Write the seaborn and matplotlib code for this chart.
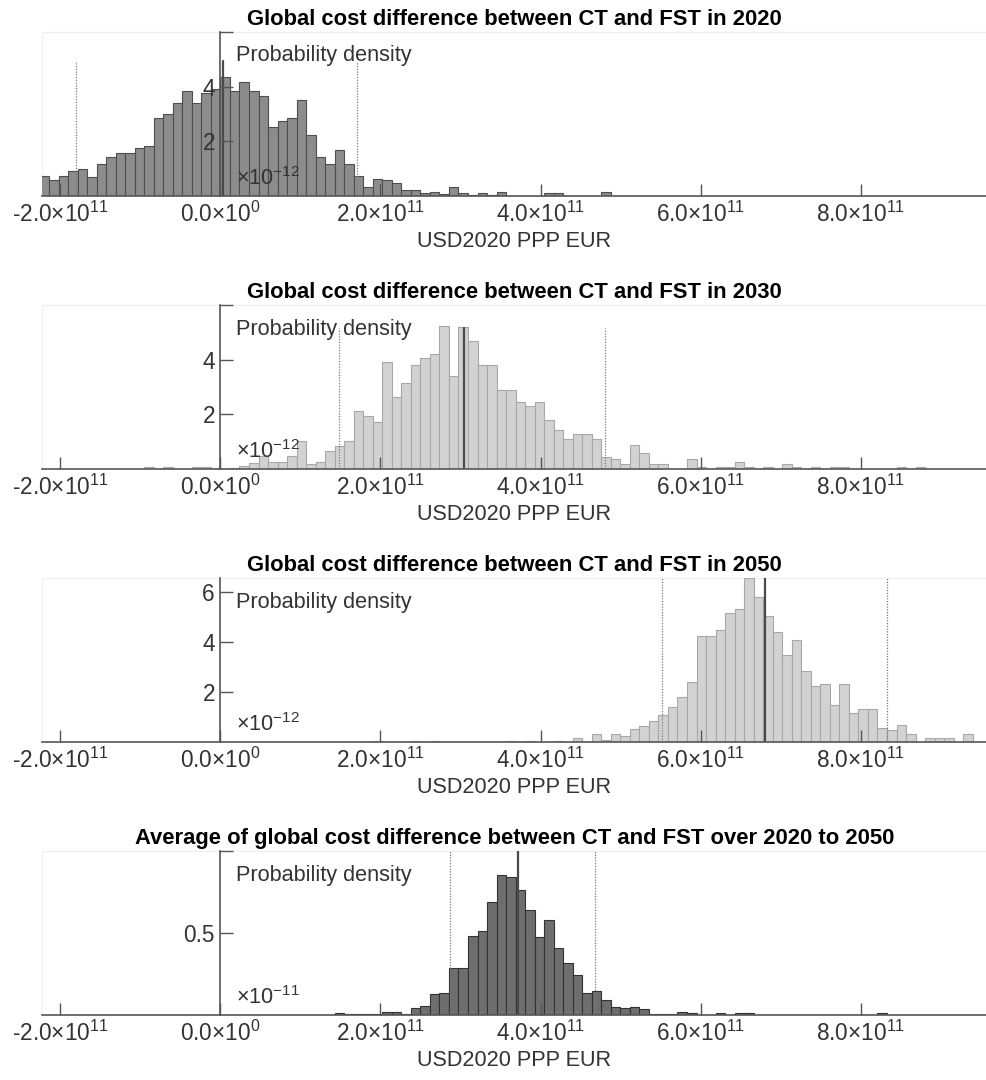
import numpy as np
import pandas as pd
import seaborn as sns
import matplotlib
matplotlib.use("Agg")
import matplotlib.pyplot as plt
from matplotlib.transforms import blended_transform_factory

# Histogram bin width shared by all panels (USD2020 PPP EUR)
BIN_WIDTH = 11.9e9

# 2020: probability density (x1e-12) per bin, bins counted from index -19
first_bin_2020 = -19
density_2020 = [0.74, 0.58, 0.74, 0.92, 1.00, 0.68, 1.16, 1.42, 1.58, 1.58,
                1.75, 1.83, 2.84, 3.00, 3.42, 3.83, 3.42, 3.76, 3.90, 4.34,
                3.83, 4.16, 3.83, 3.67, 2.52, 2.75, 2.85, 3.50, 2.25, 1.42,
                1.18, 1.67, 1.18, 0.74, 0.32, 0.64, 0.57, 0.48, 0.23, 0.23,
                0.10, 0.16, 0.06, 0.32, 0.10, 0.04, 0.10, 0.04, 0.16, 0.00,
                0.00, 0.00, 0.00, 0.10, 0.10, 0.00, 0.00, 0.00, 0.00, 0.16]

# 2030: probability density (x1e-12), bins from index -8
first_bin_2030 = -8
density_2030 = [0.09, 0.00, 0.09, 0.00, 0.00, 0.09, 0.09, 0.00, 0.00, 0.05,
                0.12, 0.21, 0.46, 0.27, 0.27, 0.46, 1.04, 0.20, 0.27, 0.67,
                0.85, 1.03, 2.12, 1.95, 1.71, 3.90, 2.64, 3.15, 3.80, 4.06,
                4.22, 5.25, 3.41, 5.18, 4.67, 3.80, 3.80, 2.89, 2.89, 2.46,
                2.30, 2.46, 1.78, 1.44, 1.11, 1.27, 1.27, 1.11, 0.44, 0.35,
                0.18, 0.86, 0.60, 0.18, 0.18, 0.00, 0.00, 0.36, 0.09, 0.00,
                0.09, 0.09, 0.27, 0.09, 0.00, 0.09, 0.00, 0.18, 0.09, 0.00,
                0.09, 0.00, 0.09, 0.09, 0.00, 0.00, 0.00, 0.00, 0.00, 0.09,
                0.00, 0.09]

# 2050: probability density (x1e-12), bins from index 16
first_bin_2050 = 16
density_2050 = [0.04, 0.00, 0.00, 0.00, 0.04, 0.00, 0.07, 0.00, 0.00, 0.00,
                0.00, 0.00, 0.00, 0.00, 0.07, 0.00, 0.07, 0.00, 0.00, 0.05,
                0.00, 0.16, 0.00, 0.33, 0.09, 0.33, 0.25, 0.52, 0.67, 0.84,
                1.08, 1.43, 1.83, 2.41, 4.24, 4.24, 4.49, 5.16, 5.32, 6.57,
                5.83, 5.07, 4.43, 3.48, 4.08, 2.84, 2.26, 2.34, 1.50, 2.34,
                1.16, 1.34, 1.34, 0.59, 0.50, 0.68, 0.35, 0.00, 0.16, 0.16,
                0.16, 0.00, 0.33]

# Average 2020-2050: probability density (x1e-11), bins from index 12
first_bin_avg = 12
density_avg = [0.010, 0.004, 0.004, 0.004, 0.004, 0.018, 0.018, 0.006, 0.044, 0.052,
               0.130, 0.136, 0.286, 0.286, 0.484, 0.514, 0.686, 0.853, 0.843, 0.762,
               0.639, 0.478, 0.579, 0.409, 0.319, 0.244, 0.135, 0.145, 0.093, 0.050,
               0.044, 0.050, 0.034, 0.004, 0.004, 0.004, 0.018, 0.010, 0.003, 0.003,
               0.010, 0.003, 0.010, 0.010, 0.003, 0.003, 0.003, 0.003, 0.003, 0.003,
               0.003, 0.003, 0.003, 0.003, 0.003, 0.003, 0.003, 0.010]

# Lower bound, median and upper bound of each distribution
bounds_2020 = [-1.81e11, 0.033e11, 1.71e11]
bounds_2030 = [1.48e11, 3.04e11, 4.80e11]
bounds_2050 = [5.52e11, 6.81e11, 8.33e11]
bounds_avg = [2.87e11, 3.72e11, 4.68e11]

titles = ["Global cost difference between CT and FST in 2020",
          "Global cost difference between CT and FST in 2030",
          "Global cost difference between CT and FST in 2050",
          "Average of global cost difference between CT and FST over 2020 to 2050"]
x_label = "USD2020 PPP EUR"
y_label = "Probability density"
scale_labels = [r"×10$^{-12}$", r"×10$^{-12}$", r"×10$^{-12}$", r"×10$^{-11}$"]

x_ticks = [-2e11, 0.0, 2e11, 4e11, 6e11, 8e11]
x_tick_labels = [r"-2.0×10$^{11}$", r"0.0×10$^{0}$", r"2.0×10$^{11}$",
                 r"4.0×10$^{11}$", r"6.0×10$^{11}$", r"8.0×10$^{11}$"]

y_ticks = [[2, 4, 6], [2, 4, 6], [2, 4, 6], [0.5, 1.0]]
y_tick_labels = [["2", "4", ""], ["2", "4", ""], ["2", "4", "6"], ["0.5", ""]]
y_tops = [6.0, 6.0, 6.56, 1.0]
line_tops = [4.95, 5.17, 6.56, 1.0]

XMIN, XMAX = -2.23e11, 9.58e11

sns.set_style("white")
plt.rcParams["font.family"] = ["Liberation Sans", "DejaVu Sans"]
plt.rcParams["mathtext.fontset"] = "custom"
plt.rcParams["mathtext.rm"] = "Liberation Sans"
plt.rcParams["mathtext.it"] = "Liberation Sans:italic"
plt.rcParams["mathtext.bf"] = "Liberation Sans:bold"
plt.rcParams["mathtext.default"] = "regular"

DARK = "#8c8c8c"
DARK_EDGE = "#4e4e4e"
AVG = "#6e6e6e"
AVG_EDGE = "#333333"
LIGHT = "#d2d2d2"
LIGHT_EDGE = "#a8a8a8"
AXIS = "#555555"
TEXT = "#333333"

panels = [
    (first_bin_2020, density_2020, bounds_2020, DARK, DARK_EDGE),
    (first_bin_2030, density_2030, bounds_2030, LIGHT, LIGHT_EDGE),
    (first_bin_2050, density_2050, bounds_2050, LIGHT, LIGHT_EDGE),
    (first_bin_avg, density_avg, bounds_avg, AVG, AVG_EDGE),
]

fig = plt.figure(figsize=(9.87, 10.8), dpi=100)
W, H = 987.0, 1080.0
left_px, right_px = 42.0, 987.0
baselines_px = [196.0, 469.0, 742.3, 1015.0]
height_px = 164.0

FS = 15.6
TICK_FS = 16.3
TITLE_FS = 15.8

for i, (first_bin, dens, bounds, face, edge) in enumerate(panels):
    base = baselines_px[i]
    ax = fig.add_axes([left_px / W, 1 - base / H, (right_px - left_px) / W, height_px / H])
    ax.set_axisbelow(False)

    idx = np.arange(first_bin, first_bin + len(dens))
    edges = (np.arange(first_bin, first_bin + len(dens) + 1) * BIN_WIDTH).tolist()
    df = pd.DataFrame({"cost": (idx + 0.5) * BIN_WIDTH, "density": dens})
    sns.histplot(data=df, x="cost", weights="density", bins=edges, stat="count",
                 color=face, edgecolor=edge, linewidth=0.8, alpha=1.0, ax=ax)

    lo, med, hi = bounds
    top = line_tops[i]
    ax.plot([lo, lo], [0, top], color="#7a7a7a", lw=0.9, ls=(0, (1, 1.2)))
    ax.plot([hi, hi], [0, top], color="#7a7a7a", lw=0.9, ls=(0, (1, 1.2)))
    ax.plot([med, med], [0, top], color="#4a4a4a", lw=1.6)

    ax.set_xlim(XMIN, XMAX)
    ax.set_ylim(0, y_tops[i])

    # faint plot frame
    ax.plot([0, 0, 1], [0, 1, 1], transform=ax.transAxes, color="#f0f0f0",
            lw=1.0, clip_on=False, zorder=0)

    for s in ("top", "right"):
        ax.spines[s].set_visible(False)
    ax.spines["left"].set_position(("data", 0))
    ax.spines["left"].set_color(AXIS)
    ax.spines["left"].set_linewidth(1.2)
    ax.spines["bottom"].set_color(AXIS)
    ax.spines["bottom"].set_linewidth(1.2)

    ax.set_xticks(x_ticks)
    ax.set_xticklabels(x_tick_labels)
    ax.set_yticks(y_ticks[i])
    ax.set_yticklabels(y_tick_labels[i])
    ax.tick_params(axis="x", bottom=True, direction="in", length=9, width=1.0,
                   color=AXIS, labelsize=TICK_FS, labelcolor=TEXT, pad=4)
    ax.tick_params(axis="y", left=True, direction="in", length=9, width=1.0,
                   color=AXIS, labelsize=TICK_FS, labelcolor=TEXT, pad=4)

    ax.set_ylabel("")
    ax.set_xlabel(x_label, fontsize=FS, color=TEXT, labelpad=3)
    ax.set_title(titles[i], fontsize=TITLE_FS, fontweight="bold", color="black", pad=5)

    trans = blended_transform_factory(ax.transData, ax.transAxes)
    ax.text(2.0e10, 1 - 24 / height_px, y_label, transform=trans, fontsize=FS,
            color=TEXT, ha="left", va="center", zorder=5)
    ax.text(2.0e10, 11 / height_px, scale_labels[i], transform=trans, fontsize=FS,
            color=TEXT, ha="left", va="baseline", zorder=5)

fig.savefig("out.png", dpi=100)
